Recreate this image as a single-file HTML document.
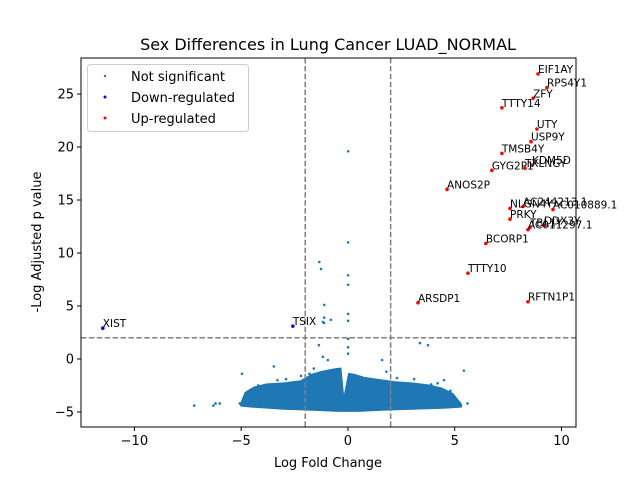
<!DOCTYPE html>
<html><head><meta charset="utf-8"><style>
body{margin:0;background:#fff;}
svg text{font-family:"DejaVu Sans","Liberation Sans",sans-serif;}
</style></head><body>
<svg id="chart" width="640" height="480" viewBox="0 0 640 480">
<rect width="640" height="480" fill="#fff"/>
<text x="328" y="50" text-anchor="middle" font-size="16">Sex Differences in Lung Cancer LUAD_NORMAL</text>
<g id="plot"></g>
<text x="328" y="467" text-anchor="middle" font-size="13">Log Fold Change</text>
<text x="0" y="0" transform="translate(41,242) rotate(-90)" text-anchor="middle" font-size="13">-Log Adjusted p value</text>
<g>
<rect x="87.5" y="64.5" width="161" height="67" rx="3" fill="#fff" fill-opacity="0.8" stroke="#ccc"/>
<circle cx="105" cy="76" r="1.2" fill="#1f77b4"/>
<text x="131" y="81" font-size="13">Not significant</text>
<circle cx="105" cy="97" r="1.5" fill="#0000ff"/>
<text x="131" y="102" font-size="13">Down-regulated</text>
<circle cx="105" cy="118" r="1.5" fill="#ff0000"/>
<text x="131" y="123" font-size="13">Up-regulated</text>
</g>
</svg>
<script>
const xTicks=[-10,-5,0,5,10];
const yTicks=[-5,0,5,10,15,20,25];
const upGenes=["EIF1AY","RPS4Y1","ZFY","TTTY14","UTY","USP9Y","TMSB4Y","KDM5D","TXLNGY","GYG2P1","ANOS2P","AC244213.1","AC010889.1","NLGN4Y","PRKY","DDX3Y","TBL1Y","AC011297.1","BCORP1","TTTY10","RFTN1P1","ARSDP1"];
const upX=[8.9,9.32,8.67,7.21,8.85,8.57,7.21,8.62,8.29,6.74,4.64,8.2,9.6,7.59,7.59,9.18,8.52,8.43,6.46,5.62,8.43,3.28];
const upY=[26.9,25.6,24.6,23.7,21.7,20.5,19.4,18.3,18.0,17.8,16.0,14.4,14.1,14.2,13.2,12.6,12.4,12.2,10.9,8.1,5.4,5.3];
const downGenes=["XIST","TSIX"];
const downX=[-11.48,-2.58];
const downY=[2.9,3.1];
const nsX=[0.01,0.01,-1.34,-1.26,0.01,0.01,-1.11,0.01,0.01,-1.11,-1.17,-1.12,-0.8,0.01,-1.36,0.01,0.01,-1.17,-0.94,1.6,3.37,3.75,-4.96,-3.47,5.43,-6.3,-6.2,-6.0,-5.06,-7.2,5.0,5.6,-2.9,-2.2,-1.6,1.8,2.6,3.1,4.2,4.5,-4.2,-3.9,-4.5,-3.3,4.8,3.9,2.3,-1.8];
const nsY=[19.6,11.0,9.15,8.5,7.9,7.0,5.1,4.25,3.6,3.9,3.5,3.4,3.7,1.9,1.3,1.1,0.5,0.2,-0.1,-0.1,1.5,1.3,-1.4,-0.7,-1.1,-4.4,-4.2,-4.2,-4.2,-4.4,-4.2,-4.2,-1.9,-1.6,-0.9,-1.2,-2.3,-1.9,-2.3,-2.0,-2.5,-2.6,-2.9,-2.0,-3.0,-2.4,-1.8,-1.4];
const cloudTopX=[-5.0,-4.8,-4.4,-3.8,-3.0,-2.2,-1.7,-1.2,-0.7,-0.35,-0.2,0.05,0.3,0.8,1.5,2.2,3.0,3.8,4.4,4.9,5.3];
const cloudTopY=[-4.2,-3.2,-2.7,-2.4,-2.3,-2.1,-1.5,-1.2,-1.0,-0.9,-4.0,-1.4,-1.5,-1.8,-2.0,-2.2,-2.3,-2.5,-2.8,-3.3,-4.3];
const cloudBotX=[5.3,4.5,3.0,1.5,0.5,-0.5,-1.5,-3.0,-4.5,-5.0];
const cloudBotY=[-4.5,-4.6,-4.7,-4.8,-4.9,-4.9,-4.8,-4.7,-4.5,-4.4];

const L=81,R=576,T=58,B=427;
const xMin=-12.5,xMax=10.68,yMin=-6.42,yMax=28.4;
function sx(v){return L+(v-xMin)/(xMax-xMin)*(R-L);}
function sy(v){return B-(v-yMin)/(yMax-yMin)*(B-T);}
const NS="http://www.w3.org/2000/svg";
const g=document.getElementById('plot');
function mk(tag,attrs,parent){const e=document.createElementNS(NS,tag);for(const k in attrs)e.setAttribute(k,attrs[k]);(parent||g).appendChild(e);return e;}

let pts=[];
for(let i=0;i<cloudTopX.length;i++)pts.push(sx(cloudTopX[i])+','+sy(cloudTopY[i]));
for(let i=0;i<cloudBotX.length;i++)pts.push(sx(cloudBotX[i])+','+sy(cloudBotY[i]));
const cloud=mk('polygon',{points:pts.join(' '),fill:'#1f77b4',stroke:'#1f77b4','stroke-width':2,'stroke-linejoin':'round'});


for(let i=0;i<nsX.length;i++){
  const c=mk('circle',{cx:sx(nsX[i]),cy:sy(nsY[i]),r:1.3,fill:'#1f77b4'});
  
  
}
const dash={stroke:'#808080','stroke-width':1.5,'stroke-dasharray':'5.5,2.4'};
const h=mk('line',Object.assign({x1:L,x2:R,y1:sy(2),y2:sy(2)},dash));


[-2,2].forEach(v=>{const l=mk('line',Object.assign({x1:sx(v),x2:sx(v),y1:T,y2:B},dash));

});
for(let i=0;i<upX.length;i++){
  const c=mk('circle',{cx:sx(upX[i]),cy:sy(upY[i]),r:1.8,fill:'#ff0000'});
  
  
  const t=mk('text',{x:sx(upX[i]),y:sy(upY[i])-1,'font-size':10.5});
  t.textContent=upGenes[i];
  
  
}
for(let i=0;i<downX.length;i++){
  const c=mk('circle',{cx:sx(downX[i]),cy:sy(downY[i]),r:1.8,fill:'#0000ff'});
  
  
  const t=mk('text',{x:sx(downX[i]),y:sy(downY[i])-1,'font-size':10.5});
  t.textContent=downGenes[i];
  
  
}
const fr=mk('rect',{x:L,y:T,width:R-L,height:B-T,fill:'none',stroke:'#000','stroke-width':1});


xTicks.forEach(v=>{
  const x=sx(v);
  mk('line',{x1:x,x2:x,y1:B,y2:B+4,stroke:'#000'});
  const t=mk('text',{x:x,y:B+18,'text-anchor':'middle','font-size':13});
  t.textContent=v<0?'\u2212'+Math.abs(v):String(v);
  
  
});
yTicks.forEach(v=>{
  const y=sy(v);
  mk('line',{x1:L-4,x2:L,y1:y,y2:y,stroke:'#000'});
  const t=mk('text',{x:L-7,y:y+4.5,'text-anchor':'end','font-size':13});
  t.textContent=v<0?'\u2212'+Math.abs(v):String(v);
  
  
});
</script>
</body></html>
